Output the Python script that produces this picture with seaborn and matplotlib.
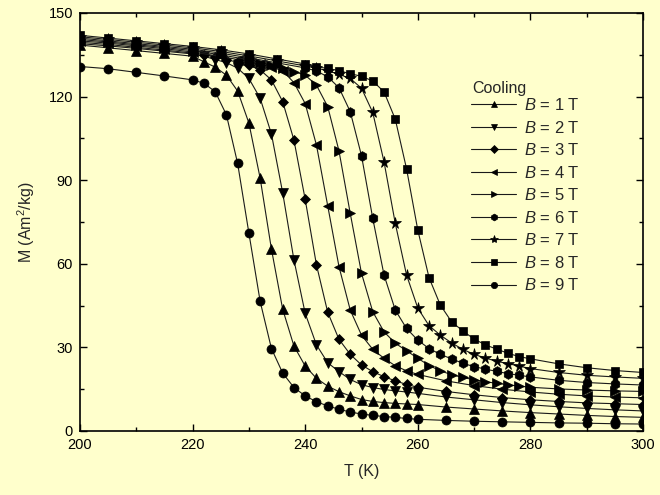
import matplotlib
matplotlib.use("Agg")
import matplotlib.pyplot as plt
import seaborn as sns
from matplotlib.ticker import MultipleLocator

# ---------------- data ----------------
T_low = [200, 205, 210, 215, 220, 222, 224, 226, 228, 230, 232, 234, 236, 238, 240,
         242, 244, 246, 248, 250, 252, 254, 256, 258, 260,
         265, 270, 275, 280, 285, 290, 295, 300]
T_left = [200, 205, 210, 215, 220, 225, 228, 230, 232, 234, 236, 238, 240,
          242, 244, 246, 248, 250, 252, 254, 256, 258, 260,
          265, 270, 275, 280, 285, 290, 295, 300]
T_right = [200, 205, 210, 215, 220, 225, 230, 232, 234, 236, 238, 240,
           242, 244, 246, 248, 250, 252, 254, 256, 258, 260, 262, 264, 266, 268, 270,
           272, 274, 276, 278, 280, 285, 290, 295, 300]
T_high = [200, 205, 210, 215, 220, 225, 230, 235, 240,
          242, 244, 246, 248, 250, 252, 254, 256, 258, 260, 262, 264, 266, 268, 270,
          272, 274, 276, 278, 280, 285, 290, 295, 300]

M_1T = [138.5, 137.5, 136.5, 135.5, 134.5,
        132.5, 130.6, 127.7, 122.0, 110.5, 90.7, 65.3, 43.7, 30.5, 23.3,
        18.9, 16.1, 14.1, 12.6, 11.3, 10.6, 10.2, 9.9, 9.7, 9.5,
        8.6, 7.9, 7.2, 6.6, 6.1, 5.6, 5.2, 4.9]
M_2T = [139.0, 138.2, 137.3, 136.3, 135.3,
        134.5, 133.3, 132.2, 130.2, 126.5, 119.4, 106.6, 85.5, 61.4, 42.2,
        30.9, 24.5, 21.3, 18.5, 16.6, 15.6, 14.9, 14.4, 14.0, 13.5,
        12.2, 11.2, 10.2, 9.4, 8.7, 8.1, 7.6, 7.2]
M_3T = [139.5, 138.7, 137.7, 136.7, 135.6,
        135.0, 134.2, 133.3, 132.3, 131.2, 129.6, 126.0, 118.2, 104.4, 83.1,
        59.6, 42.6, 32.9, 27.5, 23.7, 21.3, 19.5, 18.0, 16.7, 15.7,
        14.2, 13.0, 12.0, 11.2, 10.6, 10.1, 9.8, 9.5]
M_4T = [140.0, 139.2, 138.2, 137.2, 136.0, 134.4,
        133.3, 132.5, 131.6, 130.6, 129.3, 125.0, 117.5,
        102.6, 80.8, 59.0, 43.4, 34.4, 29.3, 26.1, 23.4, 21.6, 20.3,
        18.0, 16.3, 15.0, 14.0, 13.2, 12.6, 12.2, 11.9]
M_5T = [140.5, 139.6, 138.6, 137.6, 136.5, 135.0, 133.2,
        132.2, 131.2, 130.2, 129.0, 127.7,
        124.1, 116.4, 100.5, 78.1, 56.6, 42.8, 35.6, 31.5, 28.8, 26.1, 23.5, 21.6, 20.2, 19.2, 18.4,
        17.7, 17.1, 16.6, 16.1, 15.7, 15.1, 14.7, 14.4, 14.2]
M_6T = [141.0, 140.0, 139.0, 138.0, 137.0, 135.6, 133.9, 132.1, 130.3,
        129.2, 127.1, 123.2, 114.6, 98.8, 76.3, 56.0, 43.4, 36.8, 32.6, 29.6, 27.5, 25.9, 24.3, 23.1,
        22.2, 21.4, 20.6, 20.0, 19.4, 18.2, 17.4, 16.9, 16.5]
M_7T = [141.5, 140.5, 139.5, 138.5, 137.5, 136.2, 134.6, 132.8, 131.0,
        130.2, 129.3, 128.0, 126.5, 123.0, 114.3, 96.6, 74.5, 56.0, 44.1, 37.8, 34.4, 31.6, 29.3, 27.5,
        26.2, 25.0, 24.2, 23.3, 22.4, 21.0, 20.0, 19.4, 18.9]
M_8T = [142.0, 141.0, 140.0, 139.0, 138.0, 136.8, 135.3, 133.5, 131.7,
        130.7, 130.1, 129.3, 128.2, 127.3, 125.6, 121.7, 111.9, 94.1, 72.1, 55.0, 45.2, 39.2, 35.9, 33.0,
        30.9, 29.4, 27.9, 26.7, 25.9, 24.1, 22.7, 21.7, 21.0]
M_9T = [130.8, 130.0, 128.7, 127.4, 126.0,
        124.8, 121.8, 113.5, 96.0, 71.0, 46.5, 29.6, 20.8, 15.6, 12.6,
        10.5, 9.0, 7.8, 6.8, 6.1, 5.6, 5.2, 4.9, 4.5, 4.2,
        3.8, 3.5, 3.3, 3.1, 2.9, 2.8, 2.6, 2.5]

labels = ["$B$ = 1 T", "$B$ = 2 T", "$B$ = 3 T", "$B$ = 4 T", "$B$ = 5 T",
          "$B$ = 6 T", "$B$ = 7 T", "$B$ = 8 T", "$B$ = 9 T"]
legend_title = "Cooling"
series_T = [T_low, T_low, T_low, T_left, T_right, T_high, T_high, T_high, T_low]
series_M = [M_1T, M_2T, M_3T, M_4T, M_5T, M_6T, M_7T, M_8T, M_9T]
markers = ["^", "v", "D", "<", ">", "h", "*", "s", "o"]
msizes = [7, 7, 5.5, 7, 7, 7, 8.5, 6, 6.5]

# ---------------- style ----------------
sns.set_theme(style="ticks")
plt.rcParams["font.family"] = ["Liberation Sans", "DejaVu Sans"]
plt.rcParams["mathtext.fontset"] = "custom"
plt.rcParams["mathtext.rm"] = "Liberation Sans"
plt.rcParams["mathtext.it"] = "Liberation Sans:italic"

bg = "#FFFFCC"
fig = plt.figure(figsize=(6.6, 4.95), dpi=100, facecolor=bg)
ax = fig.add_axes([80 / 660, 1 - 431 / 495, (643 - 80) / 660, (431 - 13) / 495])
ax.set_facecolor(bg)

for T, M, mk, ms, lab in zip(series_T, series_M, markers, msizes, labels):
    sns.lineplot(x=T, y=M, ax=ax, color="#1a1a1a", linewidth=0.8,
                 marker=mk, markersize=ms, markerfacecolor="black",
                 markeredgecolor="black", markeredgewidth=0.5, label=lab)

ax.set_xlim(200, 300)
ax.set_ylim(0, 150)
ax.xaxis.set_major_locator(MultipleLocator(20))
ax.xaxis.set_minor_locator(MultipleLocator(10))
ax.yaxis.set_major_locator(MultipleLocator(30))
ax.yaxis.set_minor_locator(MultipleLocator(15))
ax.tick_params(which="both", direction="in", top=True, right=True,
               colors="black", labelsize=10.5, width=1.0)
ax.tick_params(which="major", length=5, pad=5)
ax.tick_params(which="minor", length=3)
for s in ax.spines.values():
    s.set_color("black")
    s.set_linewidth(1.2)

ax.set_xlabel("T (K)", fontsize=11.5, labelpad=9)
ax.set_ylabel("M (Am$^2$/kg)", fontsize=11.5, labelpad=8)

handles, labs = ax.get_legend_handles_labels()
leg = ax.legend(handles, labs, frameon=False, fontsize=12, loc="upper left",
                bbox_to_anchor=((463 - 80) / 563, (431 - 89) / 418),
                borderpad=0, handlelength=2.7, handletextpad=0.45,
                labelspacing=0.39, markerscale=0.7)
fig.text(472 / 660, 1 - 88 / 495, legend_title, fontsize=11.5,
         ha="left", va="center")

fig.savefig("out.png", dpi=100, facecolor=bg)
